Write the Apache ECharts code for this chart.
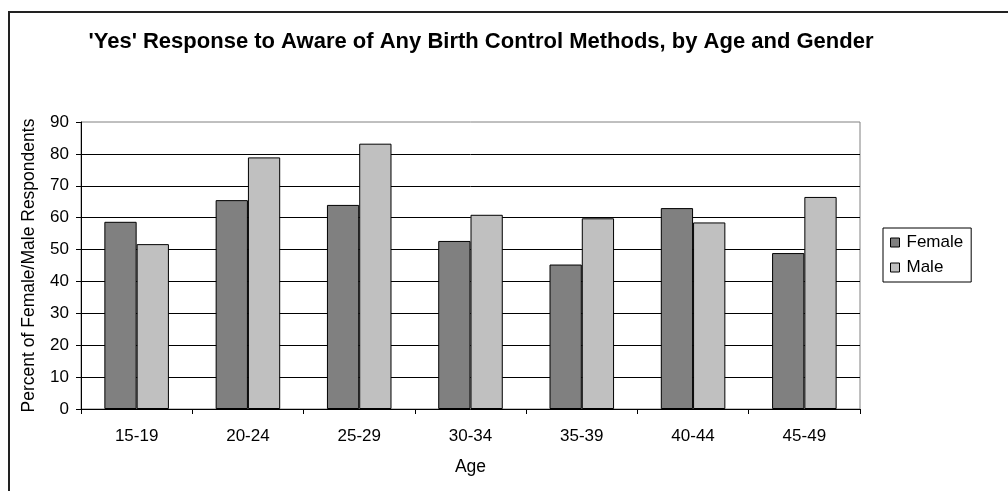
<!DOCTYPE html>
<html>
<head>
<meta charset="utf-8">
<script src="https://cdn.jsdelivr.net/npm/echarts@6/dist/echarts.min.js"></script>
<style>
html,body{margin:0;padding:0;background:#fff;}
#c{width:1008px;height:491px;}
</style>
</head>
<body>
<div id="c"></div>
<script>
const categories = ['15-19','20-24','25-29','30-34','35-39','40-44','45-49'];
const female = [58.7, 65.5, 64.0, 52.7, 45.3, 63.0, 48.9];
const male = [51.7, 78.9, 83.2, 60.9, 59.8, 58.5, 66.5];
const titleText = "'Yes' Response to Aware of Any Birth Control Methods, by Age and Gender";
const xName = 'Age';
const yName = 'Percent of Female/Male Respondents';

const FONT = '"Liberation Sans", Arial, sans-serif';
const chart = echarts.init(document.getElementById('c'), null, {renderer:'canvas'});
chart.setOption({
  animation:false,
  backgroundColor:'#fff',
  textStyle:{fontFamily:FONT},
  title:{
    text:titleText, left:476, top:26, textAlign:'center',
    textStyle:{fontFamily:FONT, fontWeight:'bold', fontSize:22, color:'#000'}
  },
  graphic:[{
    type:'polyline', silent:true,
    shape:{points:[[9,495],[9,12],[1012,12]]},
    style:{stroke:'#222', lineWidth:2, fill:null}
  }],
  legend:{
    orient:'vertical', left:883, top:228,
    padding:[6,8,6,7], itemGap:8,
    borderColor:'#000', borderWidth:1,
    itemWidth:9, itemHeight:9, icon:'rect',
    itemStyle:{borderColor:'#000', borderWidth:1},
    textStyle:{fontFamily:FONT, fontSize:17, color:'#000', padding:[0,0,0,2]},
    data:['Female','Male']
  },
  grid:{left:81, right:148, top:122, bottom:82, show:true, borderColor:'#808080', borderWidth:1, containLabel:false},
  xAxis:{
    type:'category', data:categories,
    name:xName, nameLocation:'middle', nameGap:49,
    nameTextStyle:{fontFamily:FONT, fontSize:17.5, color:'#000'},
    axisLine:{show:true, lineStyle:{color:'#000', width:1}},
    axisTick:{show:true, alignWithLabel:false, length:5, lineStyle:{color:'#000'}},
    axisLabel:{fontFamily:FONT, fontSize:17, color:'#000', margin:19},
    splitLine:{show:false}
  },
  yAxis:{
    type:'value', min:0, max:90, interval:10,
    name:yName, nameLocation:'middle', nameGap:43, nameRotate:90,
    nameTextStyle:{fontFamily:FONT, fontSize:17.5, color:'#000'},
    axisLine:{show:true, lineStyle:{color:'#000', width:1}},
    axisTick:{show:true, inside:false, length:5, lineStyle:{color:'#000'}},
    axisLabel:{fontFamily:FONT, fontSize:17, color:'#000', margin:12},
    splitLine:{show:true, showMinLine:false, showMaxLine:false, lineStyle:{color:'#000', width:1}}
  },
  series:[
    {name:'Female', type:'bar', data:female, barGap:'0%', barCategoryGap:'42%',
     itemStyle:{color:'#808080', borderColor:'#000', borderWidth:1}},
    {name:'Male', type:'bar', data:male, barGap:'0%', barCategoryGap:'42%',
     itemStyle:{color:'#C0C0C0', borderColor:'#000', borderWidth:1}}
  ]
});
</script>
</body>
</html>
